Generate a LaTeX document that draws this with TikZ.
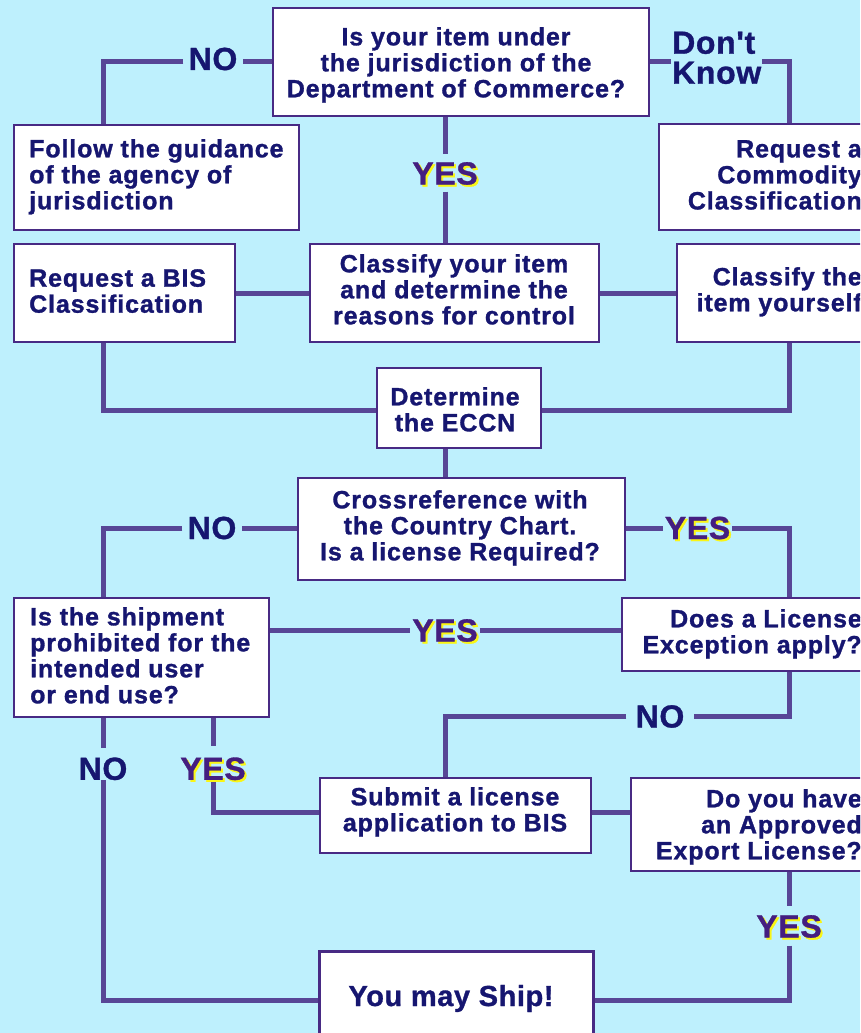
\documentclass[tikz,border=0pt]{standalone}
\usepackage{fontspec}
\newfontfamily\bodyf{Liberation Sans}[LetterSpace=3.5, FakeBold=1.2]
\newfontfamily\labf{Liberation Sans}[LetterSpace=2, FakeBold=1]
\definecolor{bgc}{RGB}{190,240,253}
\definecolor{txtc}{RGB}{22,22,112}
\definecolor{connc}{RGB}{88,70,150}
\definecolor{boxc}{RGB}{72,42,132}
\definecolor{yesc}{RGB}{68,30,128}
\definecolor{shadc}{RGB}{250,245,20}
\begin{document}
\begin{tikzpicture}[x=1pt,y=-1pt,
  box/.style={draw=boxc, line width=2pt, fill=white, rectangle, inner sep=0pt},
  btxt/.style={text=txtc, font=\bodyf\bfseries\fontsize{25}{26}\selectfont, inner sep=0pt},
  link/.style={draw=connc, line width=5pt},
  nolab/.style={text=txtc, font=\labf\bfseries\fontsize{32}{32}\selectfont, text height=23pt, text depth=0pt, inner xsep=5pt, inner ysep=7pt},
  yeslab/.style={nolab, text=yesc, inner xsep=2pt},
  shadlab/.style={yeslab, text=shadc, xshift=2pt, yshift=-2pt},
]
\useasboundingbox (0,0) rectangle (860,1033);
\clip (0,0) rectangle (860,1033);
\fill[bgc] (0,0) rectangle (860,1033);

% boxes
\node[box, minimum width=376pt, minimum height=108pt] (q1) at (461,62) {};
\node[box, minimum width=285pt, minimum height=105pt] (follow) at (156.5,177.5) {};
\node[box, minimum width=261pt, minimum height=106pt] (reqc) at (789.5,177) {};
\node[box, minimum width=221pt, minimum height=98pt] (bis) at (124.5,293) {};
\node[box, minimum width=289pt, minimum height=98pt] (classify) at (454.5,293) {};
\node[box, minimum width=243pt, minimum height=98pt] (yourself) at (798.5,293) {};
\node[box, minimum width=164pt, minimum height=80pt] (eccn) at (459,408) {};
\node[box, minimum width=327pt, minimum height=102pt] (cross) at (461.5,529) {};
\node[box, minimum width=255pt, minimum height=119pt] (ship) at (141.5,657.5) {};
\node[box, minimum width=298pt, minimum height=73pt] (lexc) at (771,634.5) {};
\node[box, minimum width=271pt, minimum height=75pt] (submit) at (455.5,815.5) {};
\node[box, minimum width=289pt, minimum height=93pt] (approved) at (775.5,824.5) {};
\node[box, line width=3pt, minimum width=274pt, minimum height=109pt] (mayship) at (456,1005.5) {};

% box texts
\node[btxt, anchor=north, align=center] (t1) at (456,27) {Is your item under\\the jurisdiction of the\\Department of Commerce?};
\node[btxt, anchor=north west, align=left] (t2) at (29,139) {Follow the guidance\\of the agency of\\jurisdiction};
\node[btxt, anchor=north east, align=right] (t3) at (862,140) {Request a\\Commodity\\Classification};
\node[btxt, anchor=north west, align=left] (t4) at (29,269) {Request a BIS\\Classification};
\node[btxt, anchor=north, align=center] (t5) at (454,254) {Classify your item\\and determine the\\reasons for control};
\node[btxt, anchor=north east, align=right] (t6) at (862,267) {Classify the\\item yourself};
\node[btxt, anchor=north, align=center] (t7) at (455,387) {Determine\\the ECCN};
\node[btxt, anchor=north, align=center] (t8) at (460,490) {Crossreference with\\the Country Chart.\\Is a license Required?};
\node[btxt, anchor=north west, align=left] (t9) at (30,607) {Is the shipment\\prohibited for the\\intended user\\or end use?};
\node[btxt, anchor=north east, align=right] (t10) at (862,609) {Does a License\\Exception apply?};
\node[btxt, anchor=north, align=center] (t11) at (455,787) {Submit a license\\application to BIS};
\node[btxt, anchor=north east, align=right] (t12) at (862,789) {Do you have\\an Approved\\Export License?};
\node[btxt, anchor=base, font=\labf\bfseries\fontsize{29}{30}\selectfont] (t13) at (451,1006) {You may Ship!};

% labels
\node[nolab] (no1) at (213,58.5) {NO};
\node[nolab, anchor=north west, align=left, inner sep=1pt, text height=, text depth=, font=\labf\bfseries\fontsize{32}{30}\selectfont] (dk) at (671,30.5) {Don't\\Know};
\node[shadlab] (yes1s) at (445,173) {YES};
\node[yeslab] (yes1) at (445,173) {YES};
\node[nolab] (no2) at (212,527.5) {NO};
\node[shadlab] (yes2s) at (697.5,527.5) {YES};
\node[yeslab] (yes2) at (697.5,527.5) {YES};
\node[shadlab] (yes3s) at (445,630) {YES};
\node[yeslab] (yes3) at (445,630) {YES};
\node[nolab, inner xsep=9pt] (no3) at (660,716) {NO};
\node[nolab, anchor=south, inner ysep=0pt, text height=32pt] (no4) at (103,780) {NO};
\node[shadlab, anchor=south, inner ysep=0pt, text height=34pt, text depth=2pt] (yes4s) at (213,782) {YES};
\node[yeslab, anchor=south, inner ysep=0pt, text height=34pt, text depth=2pt] (yes4) at (213,782) {YES};
\node[shadlab, inner ysep=8pt] (yes5s) at (789,926) {YES};
\node[yeslab, inner ysep=8pt] (yes5) at (789,926) {YES};

% corner coordinates
\coordinate (c1) at (103,62);
\coordinate (c2) at (789,62);
\coordinate (c3) at (103,410);
\coordinate (c4) at (789,410);
\coordinate (c5) at (103,528);
\coordinate (c6) at (789,528);
\coordinate (c7) at (789,716);
\coordinate (c8) at (445,716);
\coordinate (c9) at (103,1000);
\coordinate (c10) at (213,812);
\coordinate (c11) at (789,1000);

% connectors
\draw[link] (q1.west) -- (no1.east |- q1.west);
\draw[link] (no1.west |- q1.west) -- (c1) -- (c1 |- follow.north);
\draw[link] (q1.east) -- (dk.west |- q1.east);
\draw[link] (dk.east |- q1.east) -- (c2) -- (c2 |- reqc.north);
\draw[link] (yes1 |- q1.south) -- (yes1.north);
\draw[link] (yes1.south) -- (yes1 |- classify.north);
\draw[link] (bis.east) -- (classify.west);
\draw[link] (classify.east) -- (yourself.west);
\draw[link] (c3 |- bis.south) -- (c3) -- (c3 -| eccn.west);
\draw[link] (c4 |- yourself.south) -- (c4) -- (c4 -| eccn.east);
\draw[link] (c8 |- eccn.south) -- (c8 |- cross.north);
\draw[link] (cross.west |- c5) -- (no2.east |- c5);
\draw[link] (no2.west |- c5) -- (c5) -- (c5 |- ship.north);
\draw[link] (cross.east |- c6) -- (yes2.west |- c6);
\draw[link] (yes2.east |- c6) -- (c6) -- (c6 |- lexc.north);
\draw[link] (ship.east |- yes3) -- (yes3.west);
\draw[link] (yes3.east) -- (lexc.west |- yes3);
\draw[link] (c7 |- lexc.south) -- (c7) -- (no3.east |- c7);
\draw[link] (no3.west |- c7) -- (c8) -- (c8 |- submit.north);
\draw[link] (no4 |- ship.south) -- (no4.north);
\draw[link] (no4.south) -- (c9) -- (c9 -| mayship.west);
\draw[link] (yes4 |- ship.south) -- (yes4.north);
\draw[link] (yes4.south) -- (c10) -- (c10 -| submit.west);
\draw[link] (submit.east |- c10) -- (approved.west |- c10);
\draw[link] (c11 |- approved.south) -- (yes5.north);
\draw[link] (yes5.south) -- (c11) -- (c11 -| mayship.east);
\end{tikzpicture}
\end{document}
